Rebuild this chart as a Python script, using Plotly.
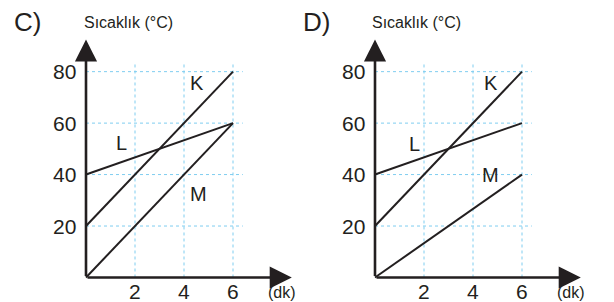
import plotly.graph_objects as go

# ---- data ----
time_ticks = [2, 4, 6]
temp_ticks = [20, 40, 60, 80]
time_pts = [0, 6]

C_K = [20, 80]
C_L = [40, 60]
C_M = [0, 60]

D_K = [20, 80]
D_L = [40, 60]
D_M = [0, 40]

panel_names = ["C)", "D)"]
line_names = ["K", "L", "M"]
# label positions (x, y) in data units
C_label_pos = [(4.53, 75.5), (1.43, 52.3), (4.6, 32.5)]
D_label_pos = [(4.73, 75.5), (1.6, 52), (4.7, 40)]

ylabel = "Sıcaklık (°C)"
xlabel = "(dk)"

FONT = "Liberation Sans, Arial, sans-serif"
INK = "#231f20"
GRID = "#7fcdf0"

W, H = 614, 302
XR = [-0.4, 8.4]
YR = [-3, 93]
XARROW = 8.4
YARROW = 92.5

fig = go.Figure()

panels = [
    dict(xa="x", ya="y", series=[C_K, C_L, C_M], labels=C_label_pos, name=panel_names[0],
         dom=[76.2 / W, 291.8 / W], title_x=12, ylab_x=82, xlab_x=267),
    dict(xa="x2", ya="y2", series=[D_K, D_L, D_M], labels=D_label_pos, name=panel_names[1],
         dom=[365.2 / W, 580.8 / W], title_x=301, ylab_x=370, xlab_x=556),
]

annotations = []
for p in panels:
    xa, ya = p["xa"], p["ya"]
    # grid
    for t in temp_ticks:
        fig.add_trace(go.Scatter(x=[0, 6.4], y=[t, t], mode="lines", xaxis=xa, yaxis=ya,
                                 line=dict(color=GRID, width=1, dash="dot"), hoverinfo="skip",
                                 showlegend=False))
    for t in time_ticks:
        fig.add_trace(go.Scatter(x=[t, t], y=[0, 83.8], mode="lines", xaxis=xa, yaxis=ya,
                                 line=dict(color=GRID, width=1, dash="dot"), hoverinfo="skip",
                                 showlegend=False))
    # lines
    for s in p["series"]:
        fig.add_trace(go.Scatter(x=time_pts, y=s, mode="lines", xaxis=xa, yaxis=ya,
                                 line=dict(color=INK, width=2), showlegend=False))
    # axis arrows
    xref = xa
    yref = ya
    annotations.append(dict(x=XARROW, y=0, ax=0, ay=0, xref=xref, yref=yref, axref=xref, ayref=yref,
                            showarrow=True, arrowhead=2, arrowsize=1.7, arrowwidth=2.6,
                            arrowcolor=INK, text=""))
    annotations.append(dict(x=0, y=YARROW, ax=0, ay=0, xref=xref, yref=yref, axref=xref, ayref=yref,
                            showarrow=True, arrowhead=2, arrowsize=1.7, arrowwidth=2.6,
                            arrowcolor=INK, text=""))
    # tick labels
    for t in time_ticks:
        annotations.append(dict(x=t, y=0, xref=xref, yref=yref, text=str(t), showarrow=False,
                                yanchor="middle", yshift=-14, font=dict(size=21, color=INK, family=FONT)))
    for t in temp_ticks:
        annotations.append(dict(x=0, y=t, xref=xref, yref=yref, text=str(t), showarrow=False,
                                xanchor="right", xshift=-8, font=dict(size=21, color=INK, family=FONT)))
    # line labels
    for nm, (lx, ly) in zip(line_names, p["labels"]):
        annotations.append(dict(x=lx, y=ly, xref=xref, yref=yref, text=nm, showarrow=False,
                                font=dict(size=20, color=INK, family=FONT)))
    # panel title
    annotations.append(dict(x=p["title_x"] / W, y=1 - 22 / H, xref="paper", yref="paper", text=p["name"],
                            showarrow=False, xanchor="left", yanchor="middle",
                            font=dict(size=26, color=INK, family=FONT)))
    annotations.append(dict(x=p["ylab_x"] / W, y=1 - 22 / H, xref="paper", yref="paper", text=ylabel,
                            showarrow=False, xanchor="left", yanchor="middle",
                            font=dict(size=16, color=INK, family=FONT)))
    annotations.append(dict(x=p["xlab_x"] / W, y=0, xref="paper", yref="paper", text=xlabel,
                            showarrow=False, xanchor="left", yanchor="bottom", borderpad=0,
                            font=dict(size=16, color=INK, family=FONT)))

ax_common = dict(showgrid=False, zeroline=False, showline=False, showticklabels=False, ticks="",
                 fixedrange=True)
y_dom = [16.8 / H, (H - 38.2) / H]
fig.update_layout(
    width=W, height=H,
    margin=dict(l=0, r=0, t=0, b=0),
    paper_bgcolor="white", plot_bgcolor="white",
    xaxis=dict(domain=panels[0]["dom"], range=XR, **ax_common),
    yaxis=dict(domain=y_dom, range=YR, **ax_common),
    xaxis2=dict(domain=panels[1]["dom"], range=XR, anchor="y2", **ax_common),
    yaxis2=dict(domain=y_dom, range=YR, anchor="x2", **ax_common),
    annotations=annotations,
    showlegend=False,
)

fig.write_html("out.html", config={"displayModeBar": False},
               post_script="document.body.style.margin='0';document.body.style.overflow='hidden';")
